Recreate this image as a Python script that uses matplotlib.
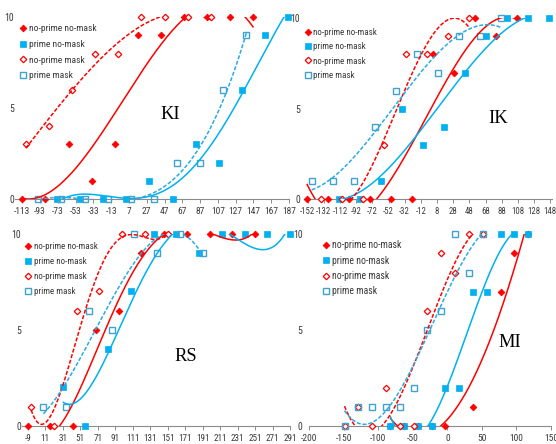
import numpy as np
import matplotlib
matplotlib.use("Agg")
import matplotlib.pyplot as plt
import matplotlib.font_manager as fm
from matplotlib.lines import Line2D

# ---------------- data ----------------
labels = ["no-prime no-mask", "prime no-mask", "no-prime mask", "prime mask"]

ki_npnm_x = [-113, -87, -61, -35, -9, 17, 43, 69, 95, 121, 147]
ki_npnm_y = [0, 0, 3, 1, 3, 9, 9, 10, 10, 10, 10]
ki_pnm_x = [-74, -48, -22, 4, 30, 56, 82, 108, 134, 160, 186]
ki_pnm_y = [0, 0, 0, 0, 1, 0, 3, 2, 6, 9, 10]
ki_npm_x = [-109, -83, -57, -31, -5, 21, 47, 73, 99]
ki_npm_y = [3, 4, 6, 8, 8, 10, 10, 10, 10]
ki_pm_x = [-95, -69, -43, -17, 9, 35, 61, 87, 113, 139]
ki_pm_y = [0, 0, 0, 0, 0, 0, 2, 2, 6, 9]
ki_ticks = [-113, -93, -73, -53, -33, -13, 7, 27, 47, 67, 87, 107, 127, 147, 167, 187]

ik_npnm_x = [-153, -127, -101, -75, -49, -23, 3, 29, 55, 81, 107]
ik_npnm_y = [0, 0, 0, 0, 0, 0, 8, 7, 10, 9, 10]
ik_pnm_x = [-113, -87, -61, -35, -9, 17, 43, 69, 95, 121, 147]
ik_pnm_y = [0, 0, 1, 5, 3, 4, 7, 9, 10, 10, 10]
ik_npm_x = [-135, -109, -83, -57, -31, -5, 21, 47]
ik_npm_y = [0, 0, 0, 3, 8, 8, 9, 10]
ik_pm_x = [-147, -121, -95, -69, -43, -17, 9, 35, 61, 87]
ik_pm_y = [1, 1, 1, 4, 6, 8, 7, 9, 9, 10]
ik_ticks = [-152, -132, -112, -92, -72, -52, -32, -12, 8, 28, 48, 68, 88, 108, 128, 148]

rs_npnm_x = [-9, 17, 43, 69, 95, 121, 147, 173, 199, 225, 251]
rs_npnm_y = [0, 0, 0, 5, 6, 9, 10, 10, 10, 10, 10]
rs_pnm_x = [31, 57, 83, 109, 135, 161, 187, 213, 239, 265, 291]
rs_pnm_y = [2, 0, 4, 7, 10, 10, 9, 10, 10, 10, 10]
rs_npm_x = [-5, 21, 47, 73, 99, 125, 151]
rs_npm_y = [1, 0, 6, 7, 10, 10, 10]
rs_pm_x = [9, 35, 61, 87, 113, 139, 165, 191]
rs_pm_y = [1, 1, 6, 5, 10, 9, 10, 9]
rs_ticks = [-9, 11, 31, 51, 71, 91, 111, 131, 151, 171, 191, 211, 231, 251, 271, 291]

mi_npnm_x = [-83, -63, -43, -23, -3, 37, 77, 97, 117]
mi_npnm_y = [0, 0, 0, 0, 0, 1, 7, 9, 10]
mi_pnm_x = [-83, -63, -43, -23, -3, 17, 37, 57, 77, 97, 117]
mi_pnm_y = [0, 0, 0, 0, 2, 2, 7, 7, 10, 10, 10]
mi_npm_x = [-149, -129, -109, -89, -69, -49, -29, -9, 11, 31, 51]
mi_npm_y = [0, 1, 0, 2, 0, 0, 6, 9, 8, 10, 10]
mi_pm_x = [-149, -129, -109, -89, -69, -49, -29, -9, 11, 31, 51]
mi_pm_y = [0, 1, 1, 1, 1, 2, 5, 6, 10, 8, 10]
mi_ticks = [-200, -150, -100, -50, 0, 50, 100, 150]

# polynomial trendline orders per series (npnm, pnm, npm, pm)
ki_orders = [3, 4, 3, 4]
ik_orders = [3, 3, 3, 3]
rs_orders = [4, 4, 4, 3]
mi_orders = [3, 3, 3, 3]


# ---------------- font: a narrow sans (the reference text is condensed) ----------------
def find_narrow_font():
    ttf = fm.fontManager.ttflist

    def regular(f):
        return f.style == 'normal' and str(f.weight) in ('400', 'normal', 'regular', 'book')

    prefs = ['Liberation Sans Narrow', 'DejaVu Sans Condensed', 'Noto Sans Condensed',
             'Roboto Condensed', 'Open Sans Condensed', 'Arial Narrow']
    for name in prefs:
        for f in ttf:
            if f.name == name and regular(f):
                return f.fname
    for f in ttf:
        if regular(f) and f.stretch in ('condensed', 'semi-condensed') and 'Serif' not in f.name \
                and 'Mono' not in f.name and 'CJK' not in f.name:
            return f.fname
    for f in ttf:
        low = f.fname.lower()
        if regular(f) and ('condensed' in low or 'narrow' in low) and 'serif' not in low \
                and 'mono' not in low and 'bold' not in low and 'italic' not in low and 'oblique' not in low:
            return f.fname
    return None


narrow_path = find_narrow_font()
SCALE = 1.0 if narrow_path else 0.85


def fprop(size):
    size = size * SCALE
    if narrow_path:
        return fm.FontProperties(fname=narrow_path, size=size)
    return fm.FontProperties(family=['Lato', 'DejaVu Sans'], size=size)


# ---------------- styling / layout ----------------
W, H = 556, 444
fig = plt.figure(figsize=(W / 100, H / 100), dpi=100)

RED = '#FF0000'
BLUE = '#00B0F0'
BLUE_OPEN = '#3FA3CF'
BLUE_DASH = '#2AAAE2'
AX_COL = '#8C8C8C'
TXT = '#3A3A3A'

styles = [
    dict(marker='D', ms=3.4, mfc=RED, mec=RED, mew=0.6),
    dict(marker='s', ms=4.4, mfc=BLUE, mec=BLUE, mew=0.5),
    dict(marker='D', ms=3.3, mfc='white', mec=RED, mew=0.9),
    dict(marker='s', ms=4.5, mfc='none', mec=BLUE_OPEN, mew=1.0),
]
line_styles = [
    dict(color=RED, lw=1.1, ls='-'),
    dict(color=BLUE, lw=1.1, ls='-'),
    dict(color=RED, lw=1.1, ls=(0, (2.6, 1.2))),
    dict(color=BLUE_DASH, lw=1.1, ls=(0, (2.6, 1.2))),
]

panels = [
    dict(name='KI', series=[(ki_npnm_x, ki_npnm_y), (ki_pnm_x, ki_pnm_y), (ki_npm_x, ki_npm_y), (ki_pm_x, ki_pm_y)],
         orders=ki_orders, ticks=ki_ticks, xlim=(-121, 187), px=(15.2, 289.0, 199.0, 17.3),
         ypad=1.0, leg=(23.3, 30.0, 17.6, 6.8), title=(170.5, 119.0), xfs=6.8),
    dict(name='IK', series=[(ik_npnm_x, ik_npnm_y), (ik_pnm_x, ik_pnm_y), (ik_npm_x, ik_npm_y), (ik_pm_x, ik_pm_y)],
         orders=ik_orders, ticks=ik_ticks, xlim=(-157, 150), px=(303.6, 551.9, 199.3, 18.3),
         ypad=2.4, leg=(307.7, 33.0, 16.0, 6.5), title=(498.5, 123.3), xfs=6.3),
    dict(name='RS', series=[(rs_npnm_x, rs_npnm_y), (rs_pnm_x, rs_pnm_y), (rs_npm_x, rs_npm_y), (rs_pm_x, rs_pm_y)],
         orders=rs_orders, ticks=rs_ticks, xlim=(-15, 291), px=(22.45, 290.2, 425.7, 233.7),
         ypad=1.2, leg=(28.0, 247.7, 16.5, 6.5), title=(185.3, 361.0), xfs=6.6),
    dict(name='MI', series=[(mi_npnm_x, mi_npnm_y), (mi_pnm_x, mi_pnm_y), (mi_npm_x, mi_npm_y), (mi_pm_x, mi_pm_y)],
         orders=mi_orders, ticks=mi_ticks, xlim=(-200, 150), px=(309.3, 551.0, 426.0, 234.3),
         ypad=5.0, leg=(326.0, 246.0, 16.7, 7.0), title=(509.3, 347.0), xfs=6.8),
]

for p in panels:
    l, r, y0, y10 = p['px']
    ax = fig.add_axes([l / W, (H - y0) / H, (r - l) / W, (y0 - y10) / H])
    ax.set_xlim(*p['xlim'])
    ax.set_ylim(0, 10)
    ax.patch.set_alpha(0)
    for s in ('left', 'top', 'right'):
        ax.spines[s].set_visible(False)
    ax.spines['bottom'].set_color(AX_COL)
    ax.spines['bottom'].set_linewidth(0.8)
    ax.set_xticks(p['ticks'])
    ax.set_xticklabels([str(t) for t in p['ticks']])
    ax.set_yticks([0, 5, 10])
    ax.set_yticklabels(['0', '5', '10'])
    ax.tick_params(axis='x', direction='out', length=2.6, width=0.7, color=AX_COL,
                   labelcolor=TXT, pad=3.2)
    ax.tick_params(axis='y', length=0, labelcolor=TXT, pad=p['ypad'])
    for lbl in ax.get_xticklabels():
        lbl.set_fontproperties(fprop(p['xfs']))
    for lbl in ax.get_yticklabels():
        lbl.set_fontproperties(fprop(7.0))

    for (x, y), st in zip(p['series'], styles):
        ax.plot(x, y, ls='none', clip_on=False, zorder=3, **st)
    for (x, y), order, ls in zip(p['series'], p['orders'], line_styles):
        xa = np.asarray(x, float)
        ya = np.asarray(y, float)
        coef = np.polyfit(xa, ya, order)
        xx = np.linspace(xa.min(), xa.max(), 400)
        ax.plot(xx, np.polyval(coef, xx), zorder=4, solid_capstyle='butt', **ls)

    # legend (markers only)
    mx, my, spacing, lfs = p['leg']
    lfs_px = lfs * SCALE * 100 / 72
    handles = [Line2D([], [], ls='none', **st) for st in styles]
    hl = 5.6 / lfs_px
    row_h = lfs_px * 1.17
    lsp = (spacing - row_h) / lfs_px
    x0 = mx - hl * lfs_px / 2
    ytop = my - row_h / 2
    ax.legend(handles, labels, loc='upper left',
              bbox_to_anchor=(x0 / W, 1 - ytop / H), bbox_transform=fig.transFigure,
              frameon=False, prop=fprop(lfs), handlelength=hl, handletextpad=0.3,
              labelspacing=lsp, borderpad=0, borderaxespad=0, labelcolor=TXT)

    tx, ty = p['title']
    fig.text(tx / W, 1 - ty / H, p['name'], ha='center', va='baseline',
             fontsize=13.3, family=['Liberation Serif', 'DejaVu Serif'], color='black')

fig.savefig('out.png', dpi=100)
